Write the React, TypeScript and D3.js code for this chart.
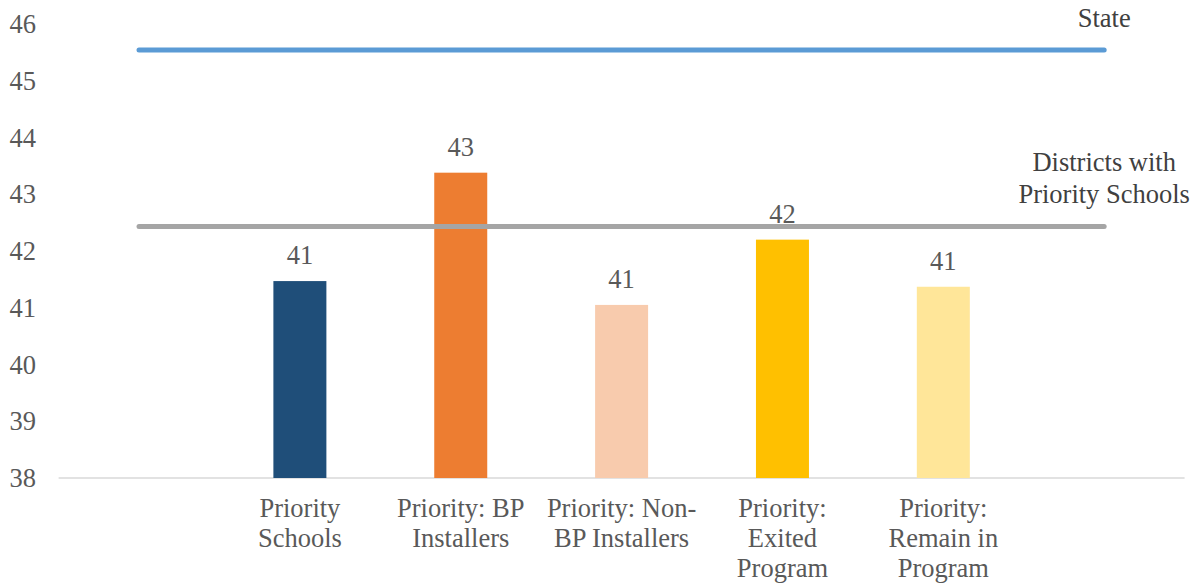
import React from "react";
import * as d3 from "d3";

const categories = ["", "Priority Schools", "Priority: BP Installers", "Priority: Non-BP Installers", "Priority: Exited Program", "Priority: Remain in Program", " "];
const categoryLines = [[], ["Priority", "Schools"], ["Priority: BP", "Installers"], ["Priority: Non-", "BP Installers"], ["Priority:", "Exited", "Program"], ["Priority:", "Remain in", "Program"], []];
const barCategories = ["Priority Schools", "Priority: BP Installers", "Priority: Non-BP Installers", "Priority: Exited Program", "Priority: Remain in Program"];
const barValues = [41.47, 43.38, 41.05, 42.2, 41.37];
const barLabels = ["41", "43", "41", "42", "41"];
const barColors = ["#1F4E79", "#ED7D31", "#F8CBAD", "#FFC000", "#FFE699"];
const stateValue = 45.54;
const districtValue = 42.43;
const yTicks = [38, 39, 40, 41, 42, 43, 44, 45, 46];

const W = 1197, H = 585;
const FONT = "Liberation Serif";
const TEXT = "#595959";
const FS = 26.5;

export default function App() {
  const x = d3.scaleBand<string>().domain(categories).range([58.6, 1184.6]).paddingInner(0.67).paddingOuter(0.335);
  const xc = (c: string) => (x(c) as number) + x.bandwidth() / 2;
  const y = d3.scaleLinear().domain([38, 46]).range([478, 24]);
  const first = xc(categories[0]);
  const last = xc(categories[categories.length - 1]);
  const stateLine = d3.line<number>().x((d) => d).y(() => y(stateValue))([first, last]) as string;
  const distLine = d3.line<number>().x((d) => d).y(() => y(districtValue))([first, last]) as string;
  const ts = { fontFamily: FONT, fontSize: FS };
  return (
    <svg width={W} height={H} style={{ position: "absolute", left: 0, top: 0, background: "#fff" }}>
      {yTicks.map((t) => (
        <text key={t} x={36} y={y(t) + 9} textAnchor="end" style={ts} fill={TEXT}>{t}</text>
      ))}
      <line x1={58.6} x2={1184.6} y1={y(38)} y2={y(38)} stroke="#D9D9D9" strokeWidth={1.5} />
      {barCategories.map((c, i) => (
        <g key={c}>
          <rect x={xc(c) - 26.5} width={53} y={y(barValues[i])} height={y(38) - y(barValues[i])} fill={barColors[i]} />
          <text x={xc(c)} y={y(barValues[i]) - 17} textAnchor="middle" style={ts} fill={TEXT}>{barLabels[i]}</text>
        </g>
      ))}
      <path d={distLine} stroke="#A5A5A5" strokeWidth={5} strokeLinecap="round" fill="none" />
      <path d={stateLine} stroke="#5B9BD5" strokeWidth={5} strokeLinecap="round" fill="none" />
      <text x={last} y={y(stateValue) - 23} textAnchor="middle" style={ts} fill="#404040">State</text>
      <text x={last} y={y(districtValue) - 56} textAnchor="middle" style={ts} fill="#404040">Districts with</text>
      <text x={last} y={y(districtValue) - 24} textAnchor="middle" style={ts} fill="#404040">Priority Schools</text>
      {categories.map((c, i) => (
        <text key={i} textAnchor="middle" style={ts} fill={TEXT}>
          {categoryLines[i].map((l, j) => (
            <tspan key={j} x={xc(c)} y={517 + j * 30}>{l}</tspan>
          ))}
        </text>
      ))}
    </svg>
  );
}
